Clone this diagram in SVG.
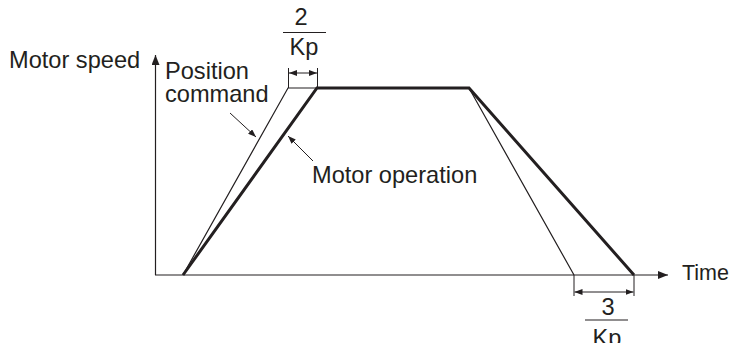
<svg xmlns="http://www.w3.org/2000/svg" width="732" height="343" viewBox="0 0 732 343">
<style>
text{font-family:"Liberation Sans",Arial,sans-serif;font-size:23.6px;fill:#231f20}
.thin{stroke:#231f20;stroke-width:1.2;fill:none}
.thick{stroke:#231f20;stroke-width:3;fill:none}
.dim{stroke:#231f20;stroke-width:1;fill:none}
</style>
<defs>
<marker id="ax" viewBox="0 0 10 8" refX="10" refY="4" markerWidth="10" markerHeight="8" markerUnits="userSpaceOnUse" orient="auto">
<path d="M0,0L10,4L0,8z" fill="#231f20"/>
</marker>
<marker id="sm" viewBox="0 0 8 6" refX="8" refY="3" markerWidth="8" markerHeight="6" markerUnits="userSpaceOnUse" orient="auto-start-reverse">
<path d="M0,0L8,3L0,6z" fill="#231f20"/>
</marker>
</defs>
<g id="axes">
<line class="thin" x1="155.5" y1="275" x2="155.5" y2="55" marker-end="url(#ax)"/>
<line class="thin" x1="155" y1="275" x2="668" y2="275" marker-end="url(#ax)"/>
<text x="9" y="68">Motor speed</text>
<text x="682" y="280" style="font-size:21.5px">Time</text>
</g>
<g id="position-command">
<polyline class="thin" points="183,275 288,88 469,88 574,275"/>
<text x="165" y="79">Position</text>
<text x="165" y="102">command</text>
</g>
<g id="motor-operation">
<polyline class="thick" points="183,275 317,88 469,88 634,275"/>
<text x="312" y="183">Motor operation</text>
</g>
<g id="connectors">
<line class="dim" x1="230" y1="113" x2="256" y2="137" marker-end="url(#sm)"/>
<line class="dim" x1="313" y1="161" x2="288" y2="136" marker-end="url(#sm)"/>
<line class="dim" x1="288.5" y1="68" x2="288.5" y2="88"/>
<line class="dim" x1="317.5" y1="68" x2="317.5" y2="88"/>
<line class="dim" x1="289" y1="73" x2="317" y2="73" marker-start="url(#sm)" marker-end="url(#sm)"/>
<line class="dim" x1="574" y1="275" x2="574" y2="296"/>
<line class="dim" x1="634" y1="275" x2="634" y2="296"/>
<line class="dim" x1="574.5" y1="292" x2="633.5" y2="292" marker-start="url(#sm)" marker-end="url(#sm)"/>
</g>
<g id="label-2-kp">
<text x="301" y="25" text-anchor="middle">2</text>
<line class="thin" x1="283" y1="32.5" x2="326" y2="32.5"/>
<text x="304" y="55" text-anchor="middle">Kp</text>
</g>
<g id="label-3-kp">
<text x="608" y="315" text-anchor="middle">3</text>
<line class="thin" x1="585" y1="320" x2="628" y2="320"/>
<text x="607" y="346" text-anchor="middle">Kp</text>
</g>
</svg>
